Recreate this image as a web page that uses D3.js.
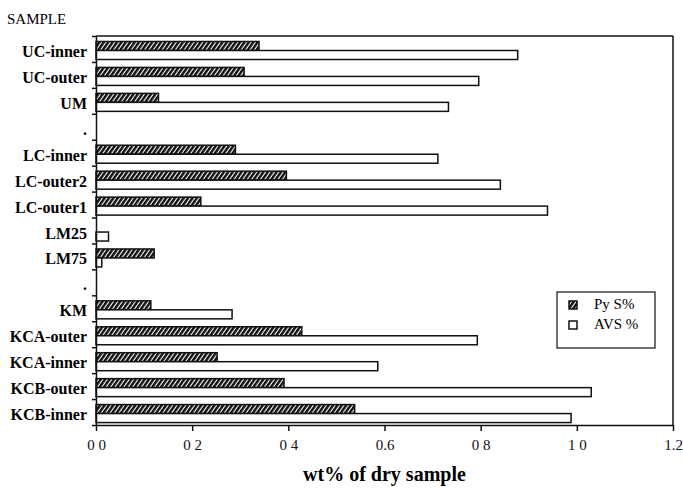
<!DOCTYPE html>
<html>
<head>
<meta charset="utf-8">
<script src="https://cdn.jsdelivr.net/npm/d3@7"></script>
<style>
  body { margin: 0; background: #fff; }
  svg { display: block; }
</style>
</head>
<body>
<div id="chart"></div>
<script>
// sample names, top to bottom ('.' rows are spacers)
const categories = ['UC-inner', 'UC-outer', 'UM', '.', 'LC-inner', 'LC-outer2', 'LC-outer1',
  'LM25', 'LM75', '.', 'KM', 'KCA-outer', 'KCA-inner', 'KCB-outer', 'KCB-inner'];
const pySPct = [0.339, 0.308, 0.130, null, 0.290, 0.396, 0.218, null, 0.121, null, 0.114, 0.428, 0.252, 0.391, 0.538];
const avsPct = [0.877, 0.796, 0.733, null, 0.711, 0.841, 0.939, 0.026, 0.012, null, 0.283, 0.793, 0.586, 1.030, 0.988];
const seriesNames = ['Py S%', 'AVS %'];
const xTicks = [0, 0.2, 0.4, 0.6, 0.8, 1.0, 1.2];
const xTickLabels = ['0 0', '0 2', '0 4', '0.6', '0 8', '1 0', '1.2'];

const W = 683, H = 488;
const margin = { top: 36, right: 10, bottom: 63, left: 96 };
const serif = '"Liberation Serif", "Times New Roman", serif';

const svg = d3.select('#chart').append('svg')
  .attr('width', W).attr('height', H)
  .style('background', '#fff');

const defs = svg.append('defs');
const pat = defs.append('pattern')
  .attr('id', 'hatch')
  .attr('patternUnits', 'userSpaceOnUse')
  .attr('width', 3.6).attr('height', 3.6)
  .attr('patternTransform', 'rotate(35)');
pat.append('rect').attr('width', 3.6).attr('height', 3.6).attr('fill', '#fff');
pat.append('rect').attr('width', 2.5).attr('height', 3.6).attr('fill', '#111');

const x = d3.scaleLinear().domain([0, 1.2]).range([margin.left, W - margin.right]);
const y = d3.scaleBand().domain(d3.range(categories.length)).range([margin.top, H - margin.bottom]);
const yEdge = d3.scaleLinear().domain([0, categories.length]).range([margin.top, H - margin.bottom]);
const sub = d3.scaleBand().domain(seriesNames).range([5.5, 23.5]);

const rows = categories.map((c, i) => ({ i, name: c, values: [pySPct[i], avsPct[i]] }));

// bars
const g = svg.append('g');
rows.forEach(r => {
  r.values.forEach((v, k) => {
    if (v == null) return;
    g.append('rect')
      .attr('x', x(0))
      .attr('y', y(r.i) + sub(seriesNames[k]))
      .attr('width', x(v) - x(0))
      .attr('height', sub.bandwidth())
      .attr('fill', k === 0 ? 'url(#hatch)' : '#fff')
      .attr('stroke', '#111')
      .attr('stroke-width', 1.5);
  });
});

// frame: top and right
svg.append('line')
  .attr('x1', x(0)).attr('x2', x(1.2))
  .attr('y1', margin.top).attr('y2', margin.top)
  .attr('stroke', '#111').attr('stroke-width', 1.5);
svg.append('line')
  .attr('x1', x(1.2)).attr('x2', x(1.2))
  .attr('y1', margin.top).attr('y2', H - margin.bottom)
  .attr('stroke', '#111').attr('stroke-width', 1.5);

// left axis, ticks between samples
const yAxis = svg.append('g')
  .attr('transform', `translate(${x(0)},0)`)
  .call(d3.axisLeft(yEdge).tickValues(d3.range(categories.length + 1)).tickFormat('').tickSizeInner(4).tickSizeOuter(0));
yAxis.selectAll('path, line').attr('stroke', '#111').attr('stroke-width', 1.5);

svg.append('g').selectAll('text')
  .data(rows)
  .join('text')
  .attr('x', 87)
  .attr('y', d => y(d.i) + y.bandwidth() / 2 + 8)
  .attr('text-anchor', 'end')
  .style('font-family', serif)
  .style('font-weight', 'bold')
  .style('font-size', '16px')
  .text(d => d.name);

// bottom axis
const xAxis = svg.append('g')
  .attr('transform', `translate(0,${H - margin.bottom})`)
  .call(d3.axisBottom(x).tickValues(xTicks).tickFormat((d, i) => xTickLabels[i]).tickSizeInner(6).tickSizeOuter(0).tickPadding(8));
xAxis.selectAll('path, line').attr('stroke', '#111').attr('stroke-width', 1.5);
xAxis.selectAll('text')
  .style('font-family', serif)
  .style('font-size', '15px')
  .attr('fill', '#111');

svg.append('text')
  .attr('x', (x(0) + x(1.2)) / 2)
  .attr('y', 481)
  .attr('text-anchor', 'middle')
  .style('font-family', serif)
  .style('font-weight', 'bold')
  .style('font-size', '20px')
  .text('wt% of dry sample');

svg.append('text')
  .attr('x', 7).attr('y', 24)
  .style('font-family', serif)
  .style('font-size', '15px')
  .text('SAMPLE');

// legend
const lg = svg.append('g').attr('transform', 'translate(557,292)');
lg.append('rect')
  .attr('width', 98).attr('height', 56)
  .attr('fill', '#fff').attr('stroke', '#111').attr('stroke-width', 1.2);
seriesNames.forEach((s, k) => {
  lg.append('rect')
    .attr('x', 12).attr('y', 9 + k * 20)
    .attr('width', 8).attr('height', 8)
    .attr('fill', k === 0 ? 'url(#hatch)' : '#fff')
    .attr('stroke', '#111').attr('stroke-width', 1.5);
  lg.append('text')
    .attr('x', 37).attr('y', 17 + k * 20)
    .style('font-family', serif)
    .style('font-size', '15px')
    .text(s);
});
</script>
</body>
</html>
